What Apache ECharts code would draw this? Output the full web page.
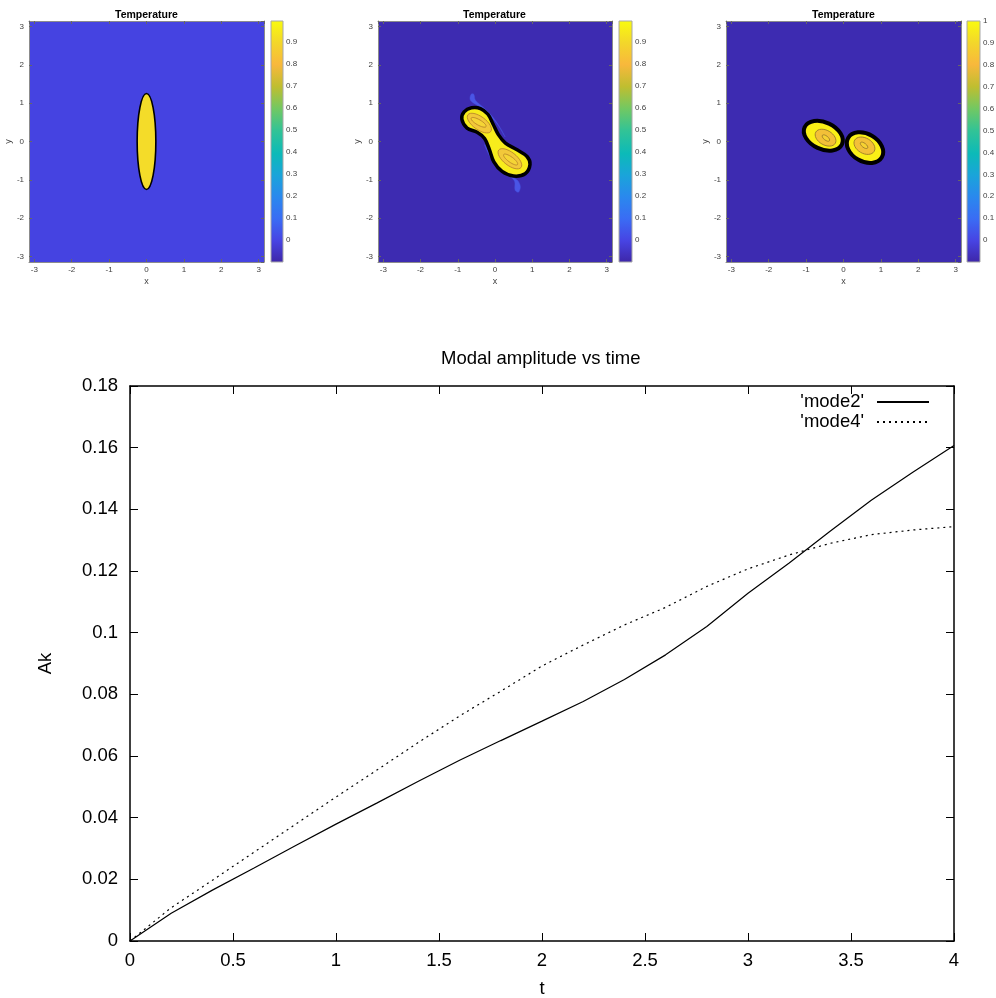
<!DOCTYPE html>
<html><head><meta charset="utf-8">
<script src="https://cdn.jsdelivr.net/npm/echarts@6/dist/echarts.min.js"></script>
<style>html,body{margin:0;padding:0;background:#fff}#c{width:996px;height:998px}</style>
</head><body><div id="c"></div>
<script>
// ---------- Line chart data ----------
const tValues = [0,0.2,0.4,0.6,0.8,1.0,1.2,1.4,1.6,1.8,2.0,2.2,2.4,2.6,2.8,3.0,3.2,3.4,3.6,3.8,4.0];
const mode2 = [0,0.0090,0.0165,0.0236,0.0308,0.0379,0.0448,0.0518,0.0586,0.0650,0.0713,0.0777,0.0848,0.0928,0.1020,0.1128,0.1226,0.1330,0.1430,0.1520,0.1607];
const mode4 = [0,0.0108,0.0197,0.0287,0.0377,0.0467,0.0555,0.0644,0.0730,0.0810,0.0892,0.0960,0.1025,0.1082,0.1150,0.1207,0.1252,0.1290,0.1318,0.1333,0.1344];
const seriesNames = ["'mode2'", "'mode4'"];

// ---------- Temperature panels (data coordinates) ----------
// ellipses: [cx, cy, rx, ry, angleDeg]
const panel1Blob = [[0, 0, 0.25, 1.25, 0]];
const panel2Outline = [[-0.89,0.58],[-0.83,0.77],[-0.63,0.88],[-0.39,0.86],[-0.19,0.71],[-0.05,0.45],[0.09,0.18],[0.28,-0.04],[0.58,-0.21],[0.86,-0.39],[0.94,-0.60],[0.81,-0.84],[0.50,-0.90],[0.19,-0.78],[-0.03,-0.53],[-0.15,-0.21],[-0.28,0.08],[-0.48,0.24],[-0.75,0.35]];
const panel2StreakUpper = [[-0.67,1.10],[-0.64,1.23],[-0.57,1.23],[-0.53,1.08],[-0.40,0.96],[-0.15,0.74],[0.10,0.42],[0.27,0.12],[0.07,0.44],[-0.18,0.72],[-0.45,0.93],[-0.60,1.02]];
const panel2StreakLower = [[-0.28,-0.08],[-0.12,-0.42],[0.15,-0.74],[0.45,-0.95],[0.53,-1.05],[0.54,-1.27],[0.63,-1.32],[0.68,-1.18],[0.61,-1.02],[0.45,-0.91],[0.17,-0.70],[-0.09,-0.40]];
const panel2Inner = [[-0.42,0.48,0.38,0.17,-36],[0.40,-0.45,0.38,0.17,-38]];
const panel2Core = [[-0.44,0.50,0.23,0.07,-30],[0.42,-0.47,0.23,0.07,-36]];
const panel3Blobs = [[-0.54,0.15,0.55,0.35,-25],[0.575,-0.16,0.52,0.36,-30]];
const panel3Inner = [[-0.48,0.10,0.30,0.19,-30],[0.56,-0.11,0.30,0.20,-30]];
const panel3Core = [[-0.47,0.09,0.12,0.055,-38],[0.55,-0.10,0.12,0.055,-38]];
const panelRange = [-3.1416, 3.1416];
const colorbarRange12 = [[-0.1, 0.995]];
const colorbarRange3 = [[-0.1, 1.0]];

const FONT = "'Liberation Sans', Arial, Helvetica, sans-serif";
const parulaStops = [
  {offset:0.00,color:'#3E26A8'},{offset:0.09,color:'#4744E3'},{offset:0.18,color:'#3A6CF4'},
  {offset:0.27,color:'#2A88EE'},{offset:0.36,color:'#1AA4DA'},{offset:0.45,color:'#0CBAB8'},
  {offset:0.545,color:'#32C396'},{offset:0.636,color:'#72C862'},{offset:0.727,color:'#BFBE30'},
  {offset:0.818,color:'#F8B83C'},{offset:0.909,color:'#F3D72A'},{offset:1.0,color:'#F9FB0E'}
];

function ellipseRender(fill, stroke, lw) {
  return function (params, api) {
    const c = api.coord([api.value(0), api.value(1)]);
    const s = api.size([api.value(2), api.value(3)]);
    return {type:'ellipse', x:c[0], y:c[1], rotation: api.value(4) * Math.PI / 180,
      shape:{cx:0, cy:0, rx:s[0], ry:s[1]}, style:{fill:fill, stroke:stroke, lineWidth:lw}};
  };
}
function polygonRender(points, fill, stroke, lw) {
  return function (params, api) {
    if (params.dataIndex !== 0) return null;
    const pts = points.map(p => api.coord(p));
    return {type:'polygon', shape:{points:pts, smooth:0.35}, style:{fill:fill, stroke:stroke, lineWidth:lw}};
  };
}
function colorbarRender(params, api) {
  const p0 = api.coord([0, api.value(0)]);
  const p1 = api.coord([1, api.value(1)]);
  return {type:'rect', shape:{x:p0[0], y:p1[1], width:p1[0]-p0[0], height:p0[1]-p1[1]},
    style:{fill:new echarts.graphic.LinearGradient(0,1,0,0,parulaStops), stroke:'#a8a8a8', lineWidth:1}};
}

const panels = [
  {left:29, width:235, bg:'#4543E1', cbLeft:271, cbW:12, cbRange:colorbarRange12},
  {left:378, width:234, bg:'#3D2BB1', cbLeft:619, cbW:13, cbRange:colorbarRange12},
  {left:726, width:235, bg:'#3D2BB1', cbLeft:967, cbW:13, cbRange:colorbarRange3}
];
const grids = [], xAxes = [], yAxes = [], series = [];
const smallLabel = {fontSize:8, color:'#404040', fontFamily:FONT};
const panelGridIdx = [];
panels.forEach((p, i) => {
  const gi = grids.length;
  panelGridIdx.push(gi);
  grids.push({left:p.left, top:21, width:p.width, height:241, show:true, backgroundColor:p.bg, borderWidth:0, outerBoundsMode:'none', containLabel:false});
  xAxes.push({gridIndex:gi, type:'value', min:panelRange[0], max:panelRange[1], splitNumber:6,
    axisLine:{show:true, onZero:false, lineStyle:{color:'#8c8c8c'}}, axisTick:{show:true, inside:true, length:3, lineStyle:{color:'#666'}},
    axisLabel:Object.assign({margin:4, showMinLabel:false, showMaxLabel:false}, smallLabel), splitLine:{show:false},
    name:'x', nameLocation:'middle', nameGap:15, nameTextStyle:{fontSize:9, color:'#404040', fontFamily:FONT}});
  yAxes.push({gridIndex:gi, type:'value', min:panelRange[0], max:panelRange[1], splitNumber:6,
    axisLine:{show:true, onZero:false, lineStyle:{color:'#8c8c8c'}}, axisTick:{show:true, inside:true, length:3, lineStyle:{color:'#666'}},
    axisLabel:Object.assign({margin:5, showMinLabel:false, showMaxLabel:false}, smallLabel), splitLine:{show:false},
    name:'y', nameLocation:'middle', nameGap:14, nameRotate:90, nameTextStyle:{fontSize:9, color:'#404040', fontFamily:FONT}});
  const ci = grids.length;
  grids.push({left:p.cbLeft, top:21, width:p.cbW, height:241, outerBoundsMode:'none', containLabel:false});
  xAxes.push({gridIndex:ci, type:'value', min:0, max:1, show:false});
  yAxes.push({gridIndex:ci, type:'value', position:'right', min:p.cbRange[0][0], max:p.cbRange[0][1], splitNumber:11,
    axisLine:{show:false}, axisTick:{show:true, inside:false, length:2, lineStyle:{color:'#777'}},
    axisLabel:Object.assign({margin:3, showMinLabel:false, showMaxLabel: i === 2}, smallLabel), splitLine:{show:false}});
  series.push({type:'custom', xAxisIndex:ci, yAxisIndex:ci, data:p.cbRange, encode:{y:[0,1]}, renderItem:colorbarRender, silent:true, z:1});
});
// panel 1
series.push({type:'custom', xAxisIndex:0, yAxisIndex:0, data:panel1Blob, encode:{x:0,y:1}, clip:true, renderItem:ellipseRender('#F4DC29','#000',1.6)});
// panel 2
series.push({type:'custom', xAxisIndex:2, yAxisIndex:2, data:panel2StreakUpper, encode:{x:0,y:1}, clip:true, renderItem:polygonRender(panel2StreakUpper,'#4A55E6','#4650DC',0.5)});
series.push({type:'custom', xAxisIndex:2, yAxisIndex:2, data:panel2StreakLower, encode:{x:0,y:1}, clip:true, renderItem:polygonRender(panel2StreakLower,'#4A55E6','#4650DC',0.5)});
series.push({type:'custom', xAxisIndex:2, yAxisIndex:2, data:panel2Outline, encode:{x:0,y:1}, clip:true, renderItem:polygonRender(panel2Outline,'#F7EC1C','#000',3.5)});
series.push({type:'custom', xAxisIndex:2, yAxisIndex:2, data:panel2Inner, encode:{x:0,y:1}, clip:true, renderItem:ellipseRender('#F2C83A','#B8862A',0.8)});
series.push({type:'custom', xAxisIndex:2, yAxisIndex:2, data:panel2Core, encode:{x:0,y:1}, clip:true, renderItem:ellipseRender('#F5D535','#B8862A',0.8)});
// panel 3
series.push({type:'custom', xAxisIndex:4, yAxisIndex:4, data:panel3Blobs, encode:{x:0,y:1}, clip:true, renderItem:ellipseRender('#FAF016','#000',4)});
series.push({type:'custom', xAxisIndex:4, yAxisIndex:4, data:panel3Inner, encode:{x:0,y:1}, clip:true, renderItem:ellipseRender('#F3C038','#9A7A2A',0.8)});
series.push({type:'custom', xAxisIndex:4, yAxisIndex:4, data:panel3Core, encode:{x:0,y:1}, clip:true, renderItem:ellipseRender('#F6D232','#9A7A2A',0.8)});

// ---------- line chart ----------
const lg = grids.length;
grids.push({left:130, top:386, width:824, height:555, outerBoundsMode:'none', containLabel:false});
const bigLabel = {fontSize:18.5, color:'#000', fontFamily:FONT};
xAxes.push({gridIndex:lg, type:'value', min:0, max:4, interval:0.5,
  axisLine:{show:true, onZero:false, lineStyle:{color:'#000', width:1.5}},
  axisTick:{show:true, inside:true, length:8, lineStyle:{color:'#000', width:1}},
  axisLabel:Object.assign({margin:10}, bigLabel), splitLine:{show:false},
  name:'t', nameLocation:'middle', nameGap:38, nameTextStyle:bigLabel});
xAxes.push({gridIndex:lg, type:'value', min:0, max:4, interval:0.5, position:'top',
  axisLine:{show:true, onZero:false, lineStyle:{color:'#000', width:1.5}},
  axisTick:{show:true, inside:true, length:8, lineStyle:{color:'#000', width:1}},
  axisLabel:{show:false}, splitLine:{show:false}});
yAxes.push({gridIndex:lg, type:'value', min:0, max:0.18, interval:0.02,
  axisLine:{show:true, onZero:false, lineStyle:{color:'#000', width:1.5}},
  axisTick:{show:true, inside:true, length:8, lineStyle:{color:'#000', width:1}},
  axisLabel:Object.assign({margin:12}, bigLabel), splitLine:{show:false},
  name:'Ak', nameLocation:'middle', nameGap:75, nameRotate:90, nameTextStyle:bigLabel});
yAxes.push({gridIndex:lg, type:'value', min:0, max:0.18, interval:0.02, position:'right',
  axisLine:{show:true, onZero:false, lineStyle:{color:'#000', width:1.5}},
  axisTick:{show:true, inside:true, length:8, lineStyle:{color:'#000', width:1}},
  axisLabel:{show:false}, splitLine:{show:false}});
// mirror ticks for the temperature panels (MATLAB box)
panelGridIdx.forEach(gi => {
  xAxes.push({gridIndex:gi, type:'value', min:panelRange[0], max:panelRange[1], splitNumber:6, position:'top',
    axisLine:{show:true, onZero:false, lineStyle:{color:'#8c8c8c'}}, axisTick:{show:true, inside:true, length:3, lineStyle:{color:'#666'}},
    axisLabel:{show:false}, splitLine:{show:false}});
  yAxes.push({gridIndex:gi, type:'value', min:panelRange[0], max:panelRange[1], splitNumber:6, position:'right',
    axisLine:{show:true, onZero:false, lineStyle:{color:'#8c8c8c'}}, axisTick:{show:true, inside:true, length:3, lineStyle:{color:'#666'}},
    axisLabel:{show:false}, splitLine:{show:false}});
});
series.push({type:'line', name:seriesNames[0], xAxisIndex:lg, yAxisIndex:lg, data:tValues.map((t,i)=>[t, mode2[i]]),
  symbol:'none', showSymbol:false, lineStyle:{color:'#000', width:1.2}, itemStyle:{color:'#000'}, z:3});
series.push({type:'line', name:seriesNames[1], xAxisIndex:lg, yAxisIndex:lg, data:tValues.map((t,i)=>[t, mode4[i]]),
  symbol:'none', showSymbol:false, lineStyle:{color:'#000', width:1.2, type:[2,4]}, itemStyle:{color:'#000'}, z:3});

const option = {
  animation:false,
  backgroundColor:'#fff',
  title:[
    {text:'Temperature', left:115, top:10, padding:0, textStyle:{fontSize:10.5, fontWeight:'bold', color:'#000', fontFamily:FONT}},
    {text:'Temperature', left:463, top:10, padding:0, textStyle:{fontSize:10.5, fontWeight:'bold', color:'#000', fontFamily:FONT}},
    {text:'Temperature', left:812, top:10, padding:0, textStyle:{fontSize:10.5, fontWeight:'bold', color:'#000', fontFamily:FONT}},
    {text:'Modal amplitude vs time', left:441, top:349, padding:0, textStyle:{fontSize:18.5, fontWeight:'normal', color:'#000', fontFamily:FONT}}
  ],
  legend:{data:seriesNames, orient:'vertical', align:'right', right:66, top:392.5, padding:0,
    itemWidth:52, itemHeight:14, itemGap:1,
    itemStyle:{opacity:0, borderWidth:0},
    textStyle:{fontSize:18.5, color:'#000', fontFamily:FONT, padding:[0,8,0,0]}},
  grid:grids, xAxis:xAxes, yAxis:yAxes, series:series
};
const chart = echarts.init(document.getElementById('c'), null, {renderer:'canvas'});
chart.setOption(option);
</script></body></html>
